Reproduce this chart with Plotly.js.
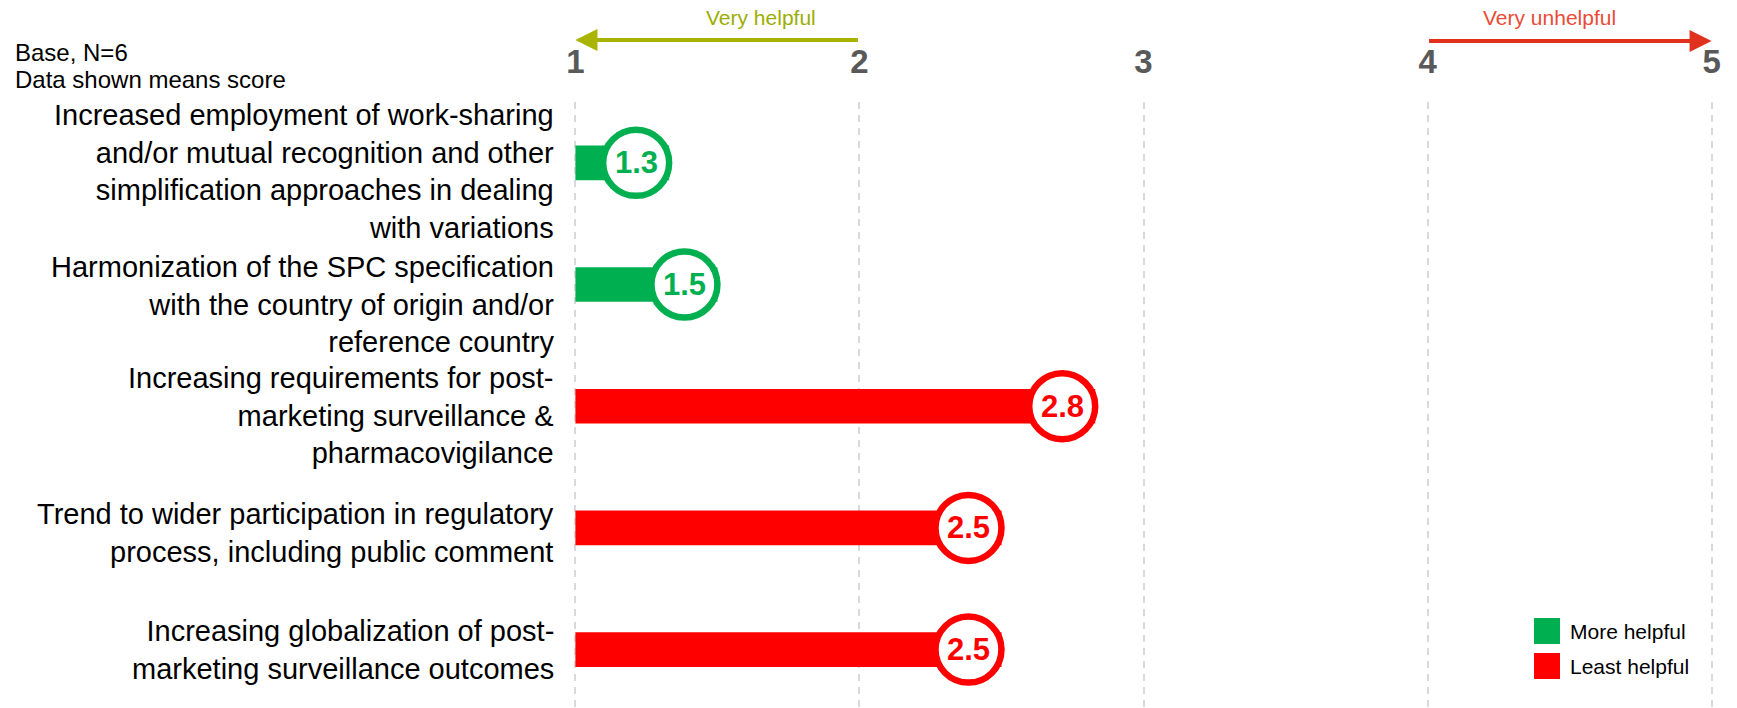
<!DOCTYPE html>
<html>
<head>
<meta charset="utf-8">
<script src="https://cdn.plot.ly/plotly-3.0.1.min.js"></script>
<style>
  html, body { margin: 0; padding: 0; background: #ffffff; }
  #chart { width: 1737px; height: 708px; }
</style>
</head>
<body>
<div id="chart"></div>
<script>
// ---------------- DATA ----------------
const categories = [
  "Increased employment of work-sharing<br>and/or mutual recognition and other<br>simplification approaches in dealing<br>with variations",
  "Harmonization of the SPC specification<br>with the country of origin and/or<br>reference country",
  "Increasing requirements for post-<br>marketing surveillance &<br>pharmacovigilance",
  "Trend to wider participation in regulatory<br>process, including public comment",
  "Increasing globalization of post-<br>marketing surveillance outcomes"
];
const meanScores = [1.33, 1.5, 2.83, 2.5, 2.5];
const groups = ["More helpful", "More helpful", "Least helpful", "Least helpful", "Least helpful"];
const groupNames = ["More helpful", "Least helpful"];
const tickValues = [1, 2, 3, 4, 5];
const tickLabels = ["1", "2", "3", "4", "5"];
const scaleLabels = ["Very helpful", "Very unhelpful"];
const scaleFrom = [2, 4];
const scaleTo = [1, 5];
const noteLines = ["Base, N=6", "Data shown means score"];

// ---------------- STYLE ----------------
const groupColors = { "More helpful": "#00b050", "Least helpful": "#ff0000" };
const scaleArrowColors = ["#a8b400", "#e0301e"];
const scaleTextColors = ["#9bae00", "#ea4b35"];
const labelNudge = [-9, -20, -9, -5, 0];   // vertical fine-tuning of category labels (px)
const FONT = "Liberation Sans, Arial, sans-serif";
const W = 1737, H = 708;
const AXIS_MIN = 1, AXIS_MAX = 5, PAD = 0.012;
const M = { l: 572, r: 22, t: 102, b: 0 };
const plotH = H - M.t - M.b;
const plotW = W - M.l - M.r;
const px2py = p => 1 + (M.t - p) / plotH;      // pixel y -> paper y
const px2px = p => (p - M.l) / plotW;          // pixel x -> paper x

// ---------------- TRACES ----------------
const traces = groupNames.map(g => {
  const idx = groups.map((v, i) => v === g ? i : -1).filter(i => i >= 0);
  return {
    type: "bar",
    orientation: "h",
    name: g,
    y: idx.map(i => categories[i]),
    base: AXIS_MIN,
    x: idx.map(i => meanScores[i] - AXIS_MIN),
    customdata: idx.map(i => meanScores[i]),
    hovertemplate: "%{customdata}<extra>" + g + "</extra>",
    width: 0.285,
    marker: { color: groupColors[g], line: { width: 0 } },
    showlegend: false
  };
});

// ---------------- SHAPES & ANNOTATIONS ----------------
const shapes = [];
const annotations = [];

// category labels
categories.forEach((c, i) => {
  annotations.push({
    xref: "paper", yref: "y", x: 0, y: i, xshift: -16, yshift: labelNudge[i],
    text: c, showarrow: false, align: "right",
    font: { family: FONT, size: 29, color: "#000000" },
    xanchor: "right", yanchor: "middle"
  });
});

// value badges (circle ending just past the bar end)
meanScores.forEach((v, i) => {
  const c = groupColors[groups[i]];
  shapes.push({
    type: "circle", layer: "above",
    xref: "x", yref: "y",
    xsizemode: "pixel", ysizemode: "pixel",
    xanchor: v, yanchor: i,
    x0: -66, x1: 0, y0: -33, y1: 33,
    fillcolor: "#ffffff",
    line: { color: c, width: 6.5 }
  });
  annotations.push({
    xref: "x", yref: "y", x: v, y: i, xshift: -33,
    text: "<b>" + v.toFixed(1) + "</b>",
    showarrow: false,
    font: { family: FONT, size: 31, color: c },
    xanchor: "center", yanchor: "middle"
  });
});

// scale direction arrows
const arrowY = [40, 41];
const scaleTextX = [1.655, 4.43];
scaleLabels.forEach((lab, k) => {
  annotations.push({
    xref: "x", yref: "paper",
    x: scaleTo[k], y: px2py(arrowY[k]),
    ax: scaleFrom[k], axref: "x", ay: 0, ayref: "pixel",
    showarrow: true, arrowhead: 2, arrowsize: 1.1, arrowwidth: 4,
    arrowcolor: scaleArrowColors[k], text: "", standoff: 0
  });
  annotations.push({
    xref: "x", yref: "paper",
    x: scaleTextX[k], y: px2py(18),
    text: lab, showarrow: false,
    font: { family: FONT, size: 21, color: scaleTextColors[k] },
    xanchor: "center", yanchor: "middle"
  });
});

// base note
noteLines.forEach((t, k) => {
  annotations.push({
    xref: "paper", yref: "paper",
    x: px2px(13), y: px2py(52 + k * 28),
    text: t, showarrow: false,
    font: { family: FONT, size: 24, color: "#000000" },
    xanchor: "left", yanchor: "middle"
  });
});

// custom legend
groupNames.forEach((g, k) => {
  const top = 618 + k * 35;
  shapes.push({
    type: "rect", xref: "paper", yref: "paper",
    x0: px2px(1534), x1: px2px(1560),
    y0: px2py(top), y1: px2py(top + 26),
    fillcolor: groupColors[g], line: { width: 0 }
  });
  annotations.push({
    xref: "paper", yref: "paper",
    x: px2px(1568), y: px2py(top + 13),
    text: g, showarrow: false,
    font: { family: FONT, size: 21, color: "#000000" },
    xanchor: "left", yanchor: "middle"
  });
});

// ---------------- LAYOUT ----------------
const layout = {
  width: W, height: H,
  margin: M,
  paper_bgcolor: "#ffffff",
  plot_bgcolor: "#ffffff",
  barmode: "overlay",
  showlegend: false,
  font: { family: FONT, color: "#000000" },
  xaxis: {
    side: "top",
    range: [AXIS_MIN - PAD, AXIS_MAX + PAD],
    tickvals: tickValues,
    ticktext: tickLabels,
    tickfont: { family: FONT, size: 33, color: "#595959", weight: "bold" },
    ticks: "outside", ticklen: 15, tickcolor: "rgba(0,0,0,0)",
    showgrid: true, gridcolor: "#d9d9d9", gridwidth: 2, griddash: "7px,6px",
    zeroline: false, showline: false, fixedrange: true
  },
  yaxis: {
    type: "category",
    categoryorder: "array",
    categoryarray: categories,
    range: [4.48, -0.5],
    showticklabels: false,
    ticks: "",
    showgrid: false, zeroline: false, showline: false, fixedrange: true
  },
  shapes: shapes,
  annotations: annotations
};

Plotly.newPlot("chart", traces, layout, { displayModeBar: false, staticPlot: true });
</script>
</body>
</html>
